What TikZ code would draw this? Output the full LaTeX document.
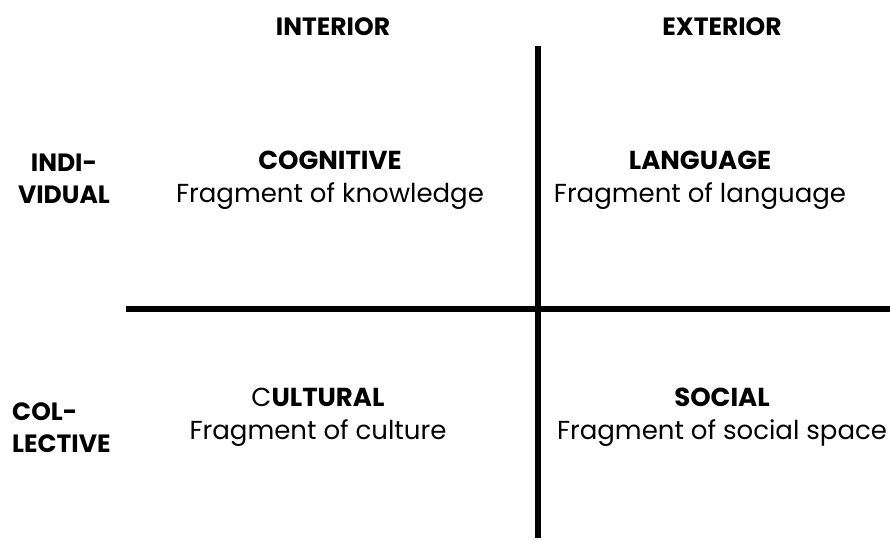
\documentclass[tikz,border=0pt]{standalone}
\usepackage{fontspec}
\setmainfont{Poppins}
\usepackage{tikz}
\newcommand{\hfnt}{\fontsize{25}{32}\selectfont}
\newcommand{\bfnt}{\fontsize{26}{33}\selectfont}

\begin{document}
\begin{tikzpicture}[x=1pt,y=-1pt]
  \useasboundingbox (0,0) rectangle (890,539);
  \tikzset{head/.style={font=\hfnt\bfseries,inner sep=0pt},
           body/.style={font=\bfnt,inner sep=0pt,align=center}}
  % the two axes
  \draw[line width=6.5pt] (538,46) -- (538,538);
  \draw[line width=6.5pt] (126,309) -- (890,309);
  % column heads
  \node[head] (int) at (333,27) {INTERIOR};
  \node[head] (ext) at (722,27) {EXTERIOR};
  % row heads
  \node[head,align=center] (ind) at (64,179) {INDI-\\VIDUAL};
  \node[head,align=left,anchor=west] (col) at (12,428) {COL-\\LECTIVE};
  % the four quadrants
  \node[body] (cog) at (330,180) {\textbf{COGNITIVE}\\Fragment of knowledge};
  \node[body] (lan) at (700,180) {\textbf{LANGUAGE}\\Fragment of language};
  \node[body] (cul) at (318,417) {C\textbf{ULTURAL}\\Fragment of culture};
  \node[body] (soc) at (722,417) {\textbf{SOCIAL}\\Fragment of social space};
\end{tikzpicture}
\end{document}
